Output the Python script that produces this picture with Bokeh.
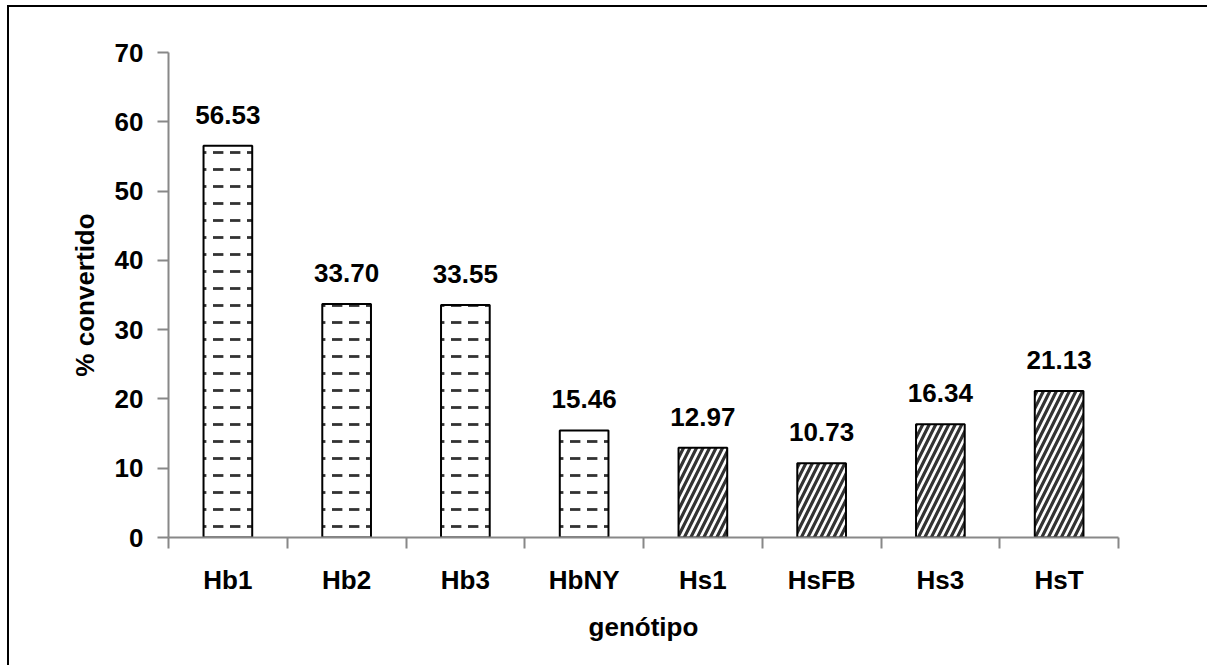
from bokeh.plotting import figure
from bokeh.models import Range1d, FixedTicker, ColumnDataSource, LabelSet
from bokeh.core.properties import value
from bokeh.embed import file_html
from bokeh.resources import INLINE

# ---- data ----
genotypes = ["Hb1", "Hb2", "Hb3", "HbNY", "Hs1", "HsFB", "Hs3", "HsT"]
values = [56.53, 33.70, 33.55, 15.46, 12.97, 10.73, 16.34, 21.13]
groups = ["Hb", "Hb", "Hb", "Hb", "Hs", "Hs", "Hs", "Hs"]
y_ticks = [0, 10, 20, 30, 40, 50, 60, 70]
x_title = "genótipo"
y_title = "% convertido"

FONT = "Liberation Sans"
n = len(genotypes)
centers = [i + 0.5 for i in range(n)]
texts = [f"{v:.2f}" for v in values]

p = figure(width=1200, height=660, output_backend="svg", toolbar_location=None,
           x_range=Range1d(0, n), y_range=Range1d(0, 70),
           min_border_left=159, min_border_right=91, min_border_top=45, min_border_bottom=130)
p.styles = {"border-top": "2px solid black", "border-left": "2px solid black",
            "margin-left": "7px", "margin-top": "5px"}
p.outline_line_color = None
p.xgrid.visible = False
p.ygrid.visible = False
p.background_fill_color = "white"
p.border_fill_color = "white"

hb = ColumnDataSource(dict(x=[c for c, g in zip(centers, groups) if g == "Hb"],
                           top=[v for v, g in zip(values, groups) if g == "Hb"]))
hs = ColumnDataSource(dict(x=[c for c, g in zip(centers, groups) if g == "Hs"],
                           top=[v for v, g in zip(values, groups) if g == "Hs"]))

p.vbar(x="x", top="top", bottom=0, width=0.41, source=hb, fill_color="white",
       line_color="black", line_width=2, hatch_pattern='"', hatch_color="#333333",
       hatch_scale=17, hatch_weight=2.8)
p.vbar(x="x", top="top", bottom=0, width=0.41, source=hs, fill_color="white",
       line_color="black", line_width=2, hatch_pattern="/", hatch_color="#333333",
       hatch_scale=13, hatch_weight=3.2)

lab_src = ColumnDataSource(dict(x=centers, y=values, t=texts))
p.add_layout(LabelSet(x="x", y="y", text="t", source=lab_src, text_align="center",
                      text_baseline="alphabetic", y_offset=22, text_font=value(FONT),
                      text_font_size="26px", text_font_style="bold", text_color="black"))

AX = "#888888"
# x axis
xa = p.xaxis[0]
xa.ticker = FixedTicker(ticks=centers, minor_ticks=list(range(n + 1)))
xa.major_label_overrides = {c: g for c, g in zip(centers, genotypes)}
xa.major_tick_out = 0
xa.major_tick_in = 0
xa.minor_tick_out = 11
xa.minor_tick_in = 0
xa.minor_tick_line_color = AX
xa.minor_tick_line_width = 2
xa.axis_line_color = AX
xa.axis_line_width = 2
xa.major_label_standoff = 16
xa.major_label_text_font = FONT
xa.major_label_text_font_size = "26px"
xa.major_label_text_font_style = "bold"
xa.major_label_text_color = "black"
xa.axis_label = x_title
xa.axis_label_text_font = FONT
xa.axis_label_text_font_size = "26px"
xa.axis_label_text_font_style = "bold"
xa.axis_label_text_color = "black"
xa.axis_label_standoff = 14

# y axis
ya = p.yaxis[0]
ya.ticker = FixedTicker(ticks=y_ticks, minor_ticks=[])
ya.major_tick_out = 11
ya.major_tick_in = 0
ya.major_tick_line_color = AX
ya.major_tick_line_width = 2
ya.axis_line_color = AX
ya.axis_line_width = 2
ya.major_label_standoff = 14
ya.major_label_text_font = FONT
ya.major_label_text_font_size = "26px"
ya.major_label_text_font_style = "bold"
ya.major_label_text_color = "black"
ya.axis_label = y_title
ya.axis_label_text_font = FONT
ya.axis_label_text_font_size = "26px"
ya.axis_label_text_font_style = "bold"
ya.axis_label_text_color = "black"
ya.axis_label_standoff = 12

open("out.html", "w").write(file_html(p, INLINE))
